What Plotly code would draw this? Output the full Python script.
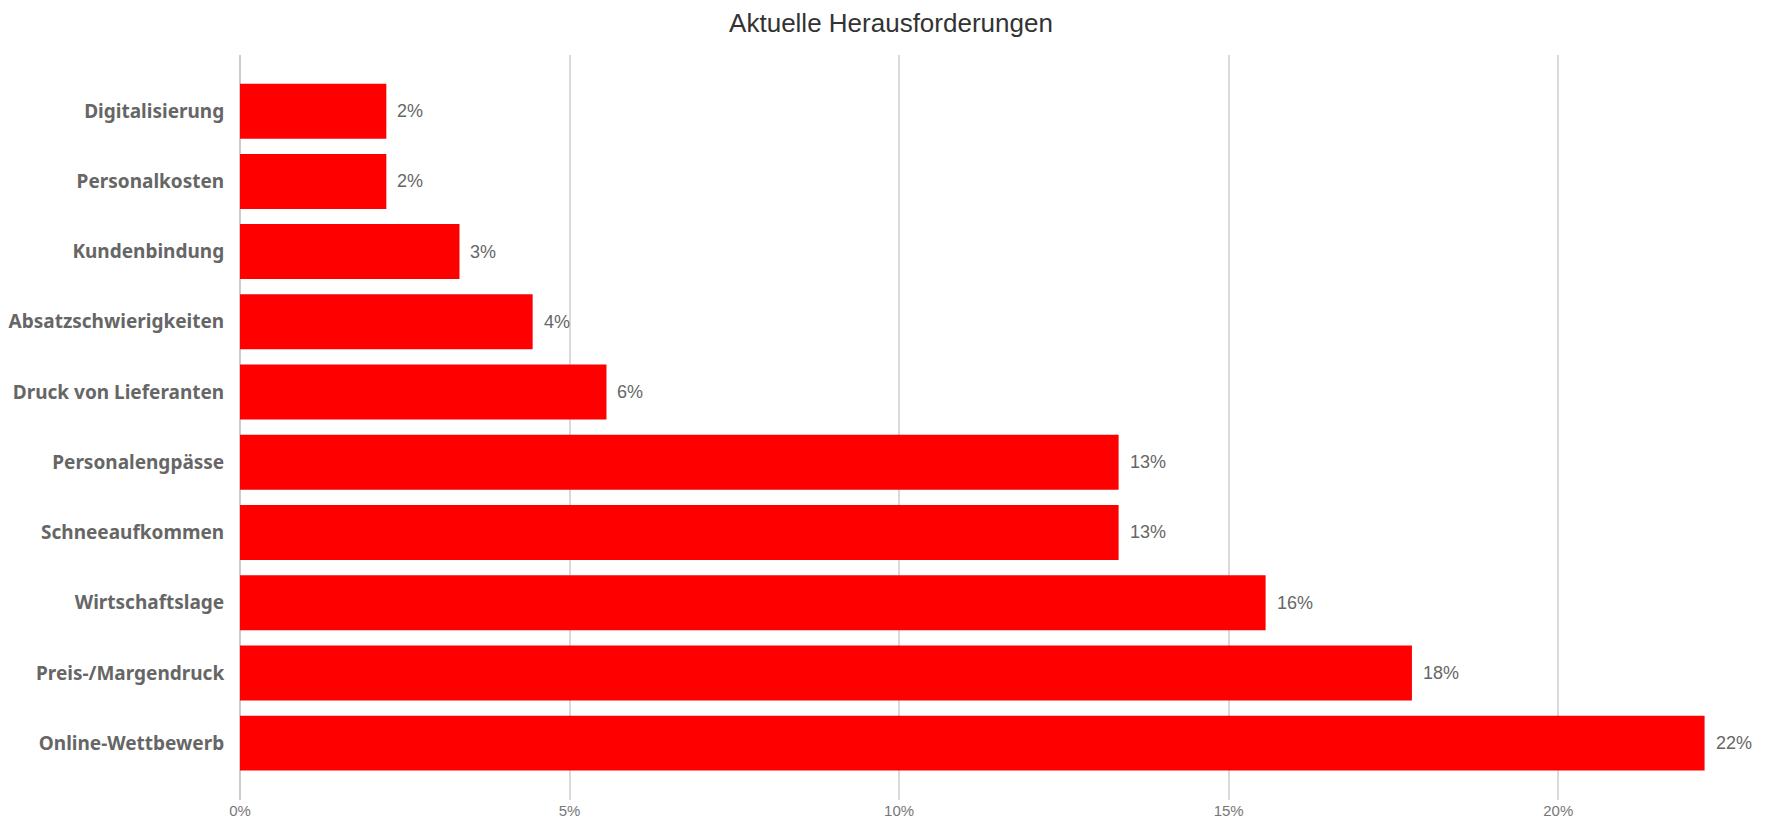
import plotly.graph_objects as go

categories = ["Online-Wettbewerb", "Preis-/Margendruck", "Wirtschaftslage", "Schneeaufkommen",
              "Personalengpässe", "Druck von Lieferanten", "Absatzschwierigkeiten",
              "Kundenbindung", "Personalkosten", "Digitalisierung"]
values = [0.2222, 0.1778, 0.1556, 0.1333, 0.1333, 0.0556, 0.0444, 0.0333, 0.0222, 0.0222]
x_ticks = [0, 0.05, 0.10, 0.15, 0.20]
x_tick_labels = ["0%", "5%", "10%", "15%", "20%"]
title = "Aktuelle Herausforderungen"

# page body has an 8px default margin; figure is sized/offset to compensate
W, H = 1761, 815

fig = go.Figure()
fig.add_trace(go.Bar(
    x=values, y=categories, orientation="h",
    marker=dict(color="#ff0000", line=dict(width=0)),
    width=0.783, hoverinfo="x+y",
))
for c, v in zip(categories, values):
    fig.add_annotation(x=v, y=c, text=f"{round(v*100)}%", showarrow=False,
                       xanchor="left", xshift=9,
                       font=dict(family="Liberation Sans, Arial", size=18, color="#666666"))

fig.update_layout(
    width=W, height=H,
    paper_bgcolor="white", plot_bgcolor="white",
    margin=dict(l=232, r=13, t=47, b=23),
    title=dict(text=title, x=883/W, xref="container", xanchor="center",
               y=1 - 15/H, yref="container", yanchor="middle",
               font=dict(family="Liberation Sans, Arial", size=26, color="#333333")),
    showlegend=False,
    xaxis=dict(range=[0, 0.23], tickvals=x_ticks, ticktext=x_tick_labels, automargin=False,
               showgrid=True, gridcolor="#d9d9d9", gridwidth=1.5,
               zeroline=True, zerolinecolor="#cccccc", zerolinewidth=1.5,
               showline=False, ticks="",
               tickfont=dict(family="Liberation Sans, Arial", size=15, color="#777777")),
    yaxis=dict(categoryorder="array", categoryarray=categories, range=[-0.81, 9.8],
               automargin=False, showgrid=False, zeroline=False, showline=False,
               ticks="outside", ticklen=11, tickcolor="rgba(0,0,0,0)",
               tickfont=dict(family="Noto Sans", size=19, color="#666666", weight="bold")),
)
fig.write_html("out.html")
